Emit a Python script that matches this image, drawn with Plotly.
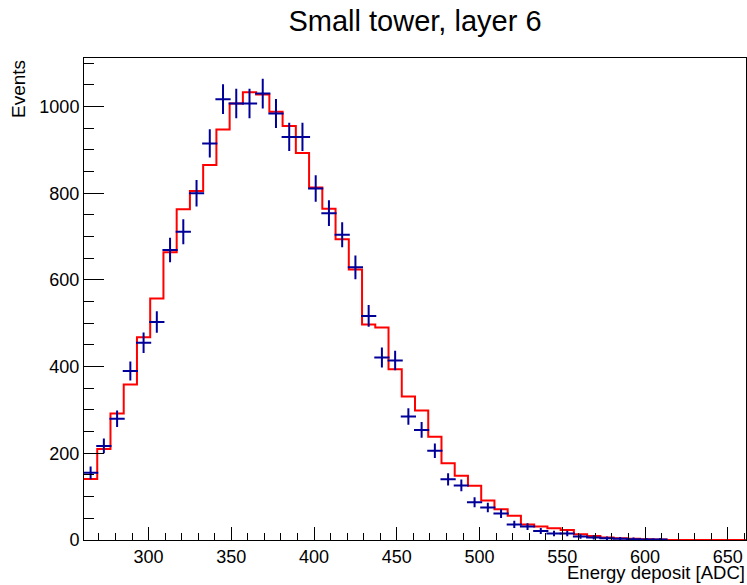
import numpy as np
import plotly.graph_objects as go

# Histogram binning: 50 bins of width 8 ADC starting at 261
bin_lo = 261.0
bin_width = 8.0
n_bins = 50

# Measured counts per bin (empty bins are not drawn)
data_counts = [155, 217, 280, 390, 455, 503, 669, 711, 800, 915,
               1017, 1007, 1007, 1030, 984, 930, 930, 811, 754, 704,
               629, 517, 421, 414, 285, 254, 206, 140, 126, 87,
               75, 61, 36, 31, 21, 15, 15, 8, 6, 4,
               3, 2, 1, 1, 0, 0, 0, 0, 0, 0]

# Simulated distribution per bin
sim_counts = [141, 210, 292, 359, 468, 557, 664, 763, 805, 865,
              947, 1007, 1033, 1028, 988, 955, 893, 813, 764, 694,
              624, 497, 490, 394, 331, 299, 238, 177, 148, 125,
              91, 71, 56, 36, 31, 27, 23, 13, 9, 6,
              4, 3, 2, 1, 0, 0, 0, 0, 0, 0]

x_tick_vals = [300, 350, 400, 450, 500, 550, 600, 650]
y_tick_vals = [0, 200, 400, 600, 800, 1000]

edges = bin_lo + bin_width * np.arange(n_bins + 1)
centers = 0.5 * (edges[:-1] + edges[1:])

data = np.array(data_counts, dtype=float)
sim = np.array(sim_counts, dtype=float)
keep = data > 0

FONT = "Liberation Sans, Arial, Helvetica, sans-serif"
BLUE = "#000099"
RED = "#ff0000"

fig = go.Figure()

# Step outline for the simulation
step_x = np.concatenate([edges[:-1], [edges[-1]]])
step_y = np.concatenate([sim, [sim[-1]]])
fig.add_trace(go.Scatter(
    x=step_x, y=step_y, mode="lines", line_shape="hv",
    line=dict(color=RED, width=2), hoverinfo="skip", showlegend=False,
))

# Data points with statistical errors and bin-width horizontal bars
fig.add_trace(go.Scatter(
    x=centers[keep], y=data[keep], mode="markers",
    marker=dict(color=BLUE, size=2),
    error_x=dict(type="data", array=np.full(keep.sum(), bin_width / 2),
                 color=BLUE, thickness=2, width=1),
    error_y=dict(type="data", array=np.sqrt(data[keep]),
                 color=BLUE, thickness=2, width=1),
    showlegend=False,
))

axis_common = dict(
    showline=True, linecolor="black", linewidth=1, mirror=True,
    ticks="inside", tickcolor="black", tickwidth=1,
    showgrid=False, zeroline=False,
    tickfont=dict(family=FONT, size=18, color="black"),
)

fig.update_xaxes(
    range=[edges[0], edges[-1]], tickvals=x_tick_vals, ticklen=13,
    minor=dict(ticks="inside", ticklen=7, dtick=10, tickcolor="black"),
    **axis_common,
)
fig.update_yaxes(
    range=[0, 1112], tickvals=y_tick_vals, ticklen=20,
    minor=dict(ticks="inside", ticklen=10, dtick=50, tickcolor="black"),
    **axis_common,
)

fig.update_layout(
    width=747, height=585,
    margin=dict(l=84, r=1, t=58, b=45),
    paper_bgcolor="white", plot_bgcolor="white",
    title=dict(text="Small tower, layer 6", xref="paper", x=0.5,
               xanchor="center", y=1 - 21 / 585, yanchor="middle",
               font=dict(family=FONT, size=29, color="black")),
    annotations=[
        dict(text="Energy deposit [ADC]", xref="paper", yref="paper",
             x=1, y=-44 / 482, xanchor="right", yanchor="bottom",
             borderpad=0,
             showarrow=False, font=dict(family=FONT, size=18.5, color="black")),
        dict(text="Events", xref="paper", yref="paper", textangle=-90,
             x=-66 / 662, y=1, xanchor="center", yanchor="top",
             showarrow=False, font=dict(family=FONT, size=19, color="black")),
    ],
)

fig.write_html("out.html")
